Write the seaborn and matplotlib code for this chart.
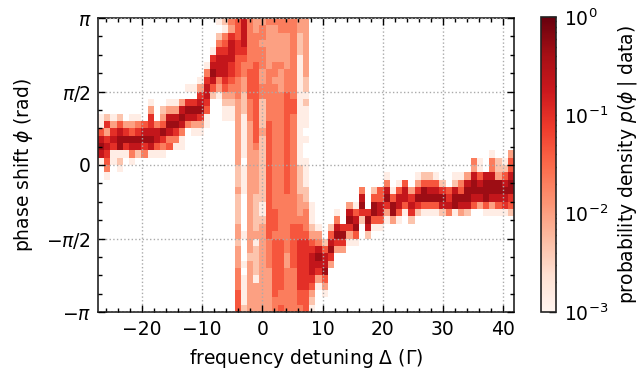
import numpy as np
import pandas as pd
import seaborn as sns
import matplotlib.pyplot as plt
from matplotlib.colors import LogNorm
from matplotlib.ticker import LogLocator, NullFormatter

# limits of the axes
x_min, x_max = -27.33, 41.83
x_major = [-20, -10, 0, 10, 20, 30, 40]
x_minor = list(range(-26, 42, 2))
y_major = [-1, -0.5, 0, 0.5, 1]
y_labels = [r'$-\pi$', r'$-\pi/2$', '0', r'$\pi/2$', r'$\pi$']
y_minor = [i / 8 for i in range(-8, 9)]

# density that each digit of the cell rows stands for
densidad = [1e-3, 1.4e-3, 4.6e-3, 0.01, 0.021, 0.046, 0.1, 0.21, 0.46, 1.0]

# cells, row 0 is phi = +pi, a dot means empty
n_cols = 67
left_cells = [
    "...................", "...................", "...................", "...................",
    "..................1", "..................6", ".................17", ".................48",
    "................167", "..............11375", "................672", "........1..1136676.",
    "........3.23378885.", "1212.11.6.37787761.", "163533456458874331.", "53676567778764.11..",
    "76788888876441.....", "87686776754511.....", "76111424111........", "1512.1.............",
    ".4.1...............", ".1.................",
]
centre_cells = [
    "124574334444433", ".13574343344433", "246574443333423", "457674433333423",
    "667664443333423", "777554443333413", "776544543443413", "776545534434413",
    "465435534334412", "354435544434412", "133425544445411", ".22324524445512",
    ".11324524445511", ".11314524445411", "...313525445411", "...31353544541.",
    "...313525445411", "...31342544541.", "...31332544541.", "...3.3325445411",
    "...213325445421", "...213325445421", "...213325445421", "...313325445422",
    "...2.3225444432", "...2.3215444433", "...2.3215544434", "...2.3225544444",
    "...3.3235544554", "...313335444555", "...2.3134554566", "...3.3234554566",
    "...3.2234553566", "...313234553566", "...4.3233554466", "...413133554466",
    "...413333554466", "...513333544455", "...513333444455", "...523333454445",
]
right_cells = [
    "", "", "", "", "", "", "", "", "", "", "", "", "", "", "", "", "", "",
    ".............................1..3",
    "..........................41.4215",
    "..........................31.4225",
    "............1....1221..1137577357",
    "............4.15.35552.2478788878",
    "........4.25715736877657588888888",
    "........7.55857768888868887787776",
    "1.....318.87687576555778775353565",
    "1...1.75668738516211124132..11112",
    "1...4.872855131.2",
    "21.27668.711",
    "33.58835.2",
    "54276611",
    "675833",
    "7876",
    "7773",
    "768",
    "635",
    "513",
    "3.1",
    "2",
    "1",
]

# put the three parts of each row together
filas = []
for i in range(40):
    izq = left_cells[i] if i < len(left_cells) else '.' * 19
    fila = izq + centre_cells[i] + right_cells[i]
    fila = fila.ljust(n_cols, '.')[:n_cols]
    filas.append([np.nan if c == '.' else densidad[int(c)] for c in fila])
datos = pd.DataFrame(filas)


def pos_x(v):
    return (v - x_min) / (x_max - x_min) * n_cols


def pos_y(v):
    return (1 - v) / 2 * len(datos)


sns.set_style("ticks")
plt.rcParams['xtick.direction'] = 'in'
plt.rcParams['ytick.direction'] = 'in'
plt.rcParams['text.color'] = 'black'
plt.rcParams['axes.labelcolor'] = 'black'
plt.rcParams['xtick.color'] = 'black'
plt.rcParams['ytick.color'] = 'black'

fig = plt.figure(figsize=(6.38, 3.69), dpi=100)
ax = fig.add_axes([98 / 638, 1 - 312 / 369, 416 / 638, 294 / 369])
cax = fig.add_axes([541 / 638, 1 - 312 / 369, 15 / 638, 295 / 369])

sns.heatmap(datos, ax=ax, cbar_ax=cax, cmap='Reds', norm=LogNorm(1e-3, 1),
            xticklabels=False, yticklabels=False)

# grid on top of the cells
ax.set_axisbelow(False)
ax.set_xticks([pos_x(v) for v in x_major])
ax.set_xticklabels([str(v).replace('-', '\u2212') for v in x_major], fontsize=13.5, rotation=0)
ax.set_xticks([pos_x(v) for v in x_minor], minor=True)
ax.set_yticks([pos_y(v) for v in y_major])
ax.set_yticklabels(y_labels, fontsize=13.5, rotation=0)
ax.set_yticks([pos_y(v) for v in y_minor], minor=True)
ax.grid(True, which='major', color='#aaaaaa', linestyle=':', linewidth=1)
ax.tick_params(which='major', length=5, width=1, top=True, right=True, direction='in')
ax.tick_params(which='minor', length=3, width=1, top=True, right=True, direction='in')
ax.tick_params(axis='x', which='major', pad=6)
ax.tick_params(axis='y', which='major', pad=5)
for lado in ax.spines.values():
    lado.set_visible(True)
    lado.set_linewidth(1.2)
    lado.set_color('#222222')

ax.set_xlabel(r'frequency detuning $\Delta$ ($\Gamma$)', fontsize=13.5, labelpad=5.5)
ax.set_ylabel(r'phase shift $\phi$ (rad)', fontsize=13.5, labelpad=8)

# colorbar
cbar = ax.collections[0].colorbar
cbar.set_ticks([1e-3, 1e-2, 1e-1, 1])
cbar.ax.yaxis.set_minor_locator(LogLocator(base=10, subs=np.arange(2, 10), numticks=10))
cbar.ax.yaxis.set_minor_formatter(NullFormatter())
cbar.ax.tick_params(which='major', labelsize=13.5, length=5, width=1, direction='in', right=True, pad=6)
cbar.ax.tick_params(which='minor', length=3, width=1, direction='in', right=True)
cbar.outline.set_visible(True)
cbar.outline.set_linewidth(1.2)
cbar.outline.set_edgecolor('#222222')
cbar.set_label(r'probability density $p(\phi\;|\;\mathrm{data})$', fontsize=13.5, labelpad=5.5)

fig.savefig('out.png', dpi=100)
